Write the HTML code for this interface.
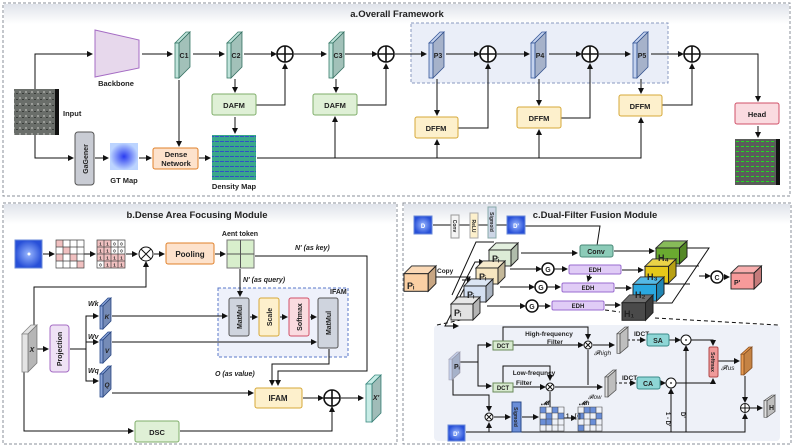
<!DOCTYPE html>
<html><head><meta charset="utf-8"><style>
html,body{margin:0;padding:0;background:#fff}
svg{display:block}
text{font-family:"Liberation Sans",sans-serif;font-weight:bold;fill:#222}
</style></head><body>
<svg width="793" height="446" viewBox="0 0 793 446" xmlns="http://www.w3.org/2000/svg">
<defs>
<linearGradient id="hdr" x1="0" y1="0" x2="0" y2="1"><stop offset="0" stop-color="#dfe3ea"/><stop offset="1" stop-color="#ffffff"/></linearGradient>
<radialGradient id="gt"><stop offset="0" stop-color="#2a3cf0"/><stop offset="1" stop-color="#bcd4ff"/></radialGradient>
<radialGradient id="dd"><stop offset="0" stop-color="#9ab8ff"/><stop offset="1" stop-color="#2850d8"/></radialGradient>
<marker id="a" markerWidth="6" markerHeight="6" refX="5" refY="3" orient="auto" markerUnits="userSpaceOnUse"><path d="M0,0 L6,3 L0,6 z" fill="#111"/></marker>
<pattern id="sat" width="6" height="6" patternUnits="userSpaceOnUse"><rect width="6" height="6" fill="#6a6e6a"/><rect x="1" y="1" width="2" height="2" fill="#9a9c98"/><rect x="4" y="3" width="2" height="1" fill="#3a3d3a"/></pattern>
<pattern id="den" width="5" height="5" patternUnits="userSpaceOnUse"><rect width="5" height="5" fill="#3aa88a"/><rect x="0" y="1" width="4" height="1" fill="#3050c8"/></pattern>
<pattern id="det" width="5" height="5" patternUnits="userSpaceOnUse"><rect width="5" height="5" fill="#5a5d5a"/><rect x="1" y="1" width="3" height="1" fill="#22dd22"/></pattern>
<g id="slabA" stroke-width="0.8"><polygon points="0,11 11,0 15,0 4,11"/><rect x="0" y="11" width="4" height="35"/><polygon points="4,11 15,0 15,35 4,46"/><polygon points="4,11 15,0 15,35 4,46" fill="#000" fill-opacity="0.15" stroke="none"/></g>
<g id="slabK" stroke-width="0.8"><polygon points="0,8 8,0 11,0 3,8"/><rect x="0" y="8" width="3" height="23"/><polygon points="3,8 11,0 11,23 3,31"/><polygon points="3,8 11,0 11,23 3,31" fill="#000" fill-opacity="0.15" stroke="none"/></g>
<g id="slabX" stroke-width="0.8"><polygon points="0,9 9,0 15,0 6,9"/><rect x="0" y="9" width="6" height="38"/><polygon points="6,9 15,0 15,38 6,47"/><polygon points="6,9 15,0 15,38 6,47" fill="#000" fill-opacity="0.2" stroke="none"/></g>
<g id="cube" stroke="#222" stroke-width="0.9"><polygon points="0,7 7,0 29,0 22,7"/><polygon points="0,7 7,0 29,0 22,7" fill="#fff" fill-opacity="0.2" stroke="none"/><rect x="0" y="7" width="22" height="16"/><polygon points="22,7 29,0 29,16 22,23"/><polygon points="22,7 29,0 29,16 22,23" fill="#000" fill-opacity="0.2" stroke="none"/></g>
<g id="op" stroke="#111" stroke-width="1.6" fill="#fff"><circle r="8"/><path d="M-8,0H8M0,-8V8"/></g>
</defs>
<rect x="3" y="3" width="787" height="193" fill="#fff" stroke="#8a8f99" stroke-dasharray="3,2"/>
<rect x="4" y="4" width="785" height="20" fill="url(#hdr)"/>
<rect x="3" y="203" width="394" height="241" fill="#fff" stroke="#8a8f99" stroke-dasharray="3,2"/>
<rect x="4" y="204" width="392" height="20" fill="url(#hdr)"/>
<rect x="403" y="203" width="388" height="241" fill="#fff" stroke="#8a8f99" stroke-dasharray="3,2"/>
<rect x="404" y="204" width="386" height="20" fill="url(#hdr)"/>
<rect x="434" y="325" width="346" height="116" rx="4" fill="#eef1f8"/>
<rect x="411" y="23" width="257" height="60" fill="#eaeef8" stroke="#8a9ac0" stroke-dasharray="3,2"/>
<rect x="218" y="288" width="130" height="69" fill="#eef1fb" stroke="#5a78c8" stroke-dasharray="3,2"/>
<text x="397" y="17" font-size="9.5" text-anchor="middle">a.Overall Framework</text>
<text x="197" y="218" font-size="9.5" text-anchor="middle">b.Dense Area Focusing Module</text>
<text x="595" y="218" font-size="9.5" text-anchor="middle">c.Dual-Filter Fusion Module</text>

<g fill="none" stroke="#111" stroke-width="1">
<path d="M35,89 V54 H92" marker-end="url(#a)"/>
<path d="M142,54 H172" marker-end="url(#a)"/>
<path d="M193,54 H224" marker-end="url(#a)"/>
<path d="M244,54 H276" marker-end="url(#a)"/>
<path d="M294,54 H326" marker-end="url(#a)"/>
<path d="M345,54 H377" marker-end="url(#a)"/>
<path d="M395,54 H426" marker-end="url(#a)"/>
<path d="M446,54 H479" marker-end="url(#a)"/>
<path d="M497,54 H529" marker-end="url(#a)"/>
<path d="M549,54 H581" marker-end="url(#a)"/>
<path d="M599,54 H630" marker-end="url(#a)"/>
<path d="M651,54 H683" marker-end="url(#a)"/>
<path d="M701,54 H758 V101" marker-end="url(#a)"/>
<path d="M758,126 V137" marker-end="url(#a)"/>
<path d="M235,79 V92" marker-end="url(#a)"/>
<path d="M336,79 V92" marker-end="url(#a)"/>
<path d="M235,117 V133" marker-end="url(#a)"/>
<path d="M256,105 H285 V64" marker-end="url(#a)"/>
<path d="M357,105 H386 V64" marker-end="url(#a)"/>
<path d="M458,128 H488 V64" marker-end="url(#a)"/>
<path d="M561,118 H590 V64" marker-end="url(#a)"/>
<path d="M662,105 H692 V64" marker-end="url(#a)"/>
<path d="M437,79 V115" marker-end="url(#a)"/>
<path d="M539,79 V105" marker-end="url(#a)"/>
<path d="M641,79 V93" marker-end="url(#a)"/>
<path d="M179,80 V146" marker-end="url(#a)"/>
<path d="M35,135 V158 H73" marker-end="url(#a)"/>
<path d="M95,158 H108" marker-end="url(#a)"/>
<path d="M139,158 H151" marker-end="url(#a)"/>
<path d="M199,158 H210" marker-end="url(#a)"/>
<path d="M257,158 H641 V118" marker-end="url(#a)"/>
<path d="M335,158 V117" marker-end="url(#a)"/>
<path d="M437,158 V140" marker-end="url(#a)"/>
<path d="M539,158 V130" marker-end="url(#a)"/>
<path d="M43,254 H54" marker-end="url(#a)"/>
<path d="M84,254 H95" marker-end="url(#a)"/>
<path d="M126,254 H137" marker-end="url(#a)"/>
<path d="M154,254 H164" marker-end="url(#a)"/>
<path d="M215,254 H225" marker-end="url(#a)"/>
<path d="M255,256 H367 V371 H278 V385" marker-end="url(#a)"/>
<path d="M240,269 V296" marker-end="url(#a)"/>
<path d="M34,325 V287 H146 V262" marker-end="url(#a)"/>
<path d="M37,349 H48" marker-end="url(#a)"/>
<path d="M70,349 H86 V316 H98" marker-end="url(#a)"/>
<path d="M86,342 H98" marker-end="url(#a)"/>
<path d="M86,349 V381 H98" marker-end="url(#a)"/>
<path d="M112,316 H227" marker-end="url(#a)"/>
<path d="M112,342 H316" marker-end="url(#a)"/>
<path d="M112,393 H253" marker-end="url(#a)"/>
<path d="M250,317 H257" marker-end="url(#a)"/>
<path d="M280,317 H287" marker-end="url(#a)"/>
<path d="M310,317 H316" marker-end="url(#a)"/>
<path d="M329,349 V364 H272 V385" marker-end="url(#a)"/>
<path d="M303,398 H323" marker-end="url(#a)"/>
<path d="M341,398 H363" marker-end="url(#a)"/>
<path d="M24,372 V431 H133" marker-end="url(#a)"/>
<path d="M180,431 H332 V407" marker-end="url(#a)"/>
<path d="M433,225 H507"/>
<path d="M525,226 H600 L596,252"/>
<path d="M590,274 L588,281" marker-end="url(#a)"/>
<path d="M434,277 H470 L445,326 H458" marker-end="url(#a)"/>
<path d="M455,300 L475,262 H484" marker-end="url(#a)"/>
<path d="M462,280 H472" marker-end="url(#a)"/>
<path d="M452,295 L476,242 H494"/>
<path d="M521,253 H577" marker-end="url(#a)"/>
<path d="M510,269 H541" marker-end="url(#a)"/>
<path d="M500,287 H534" marker-end="url(#a)"/>
<path d="M487,306 H525" marker-end="url(#a)"/>
<path d="M554,269 H567" marker-end="url(#a)"/>
<path d="M547,287 H560" marker-end="url(#a)"/>
<path d="M538,306 H550" marker-end="url(#a)"/>
<path d="M614,251 H654" marker-end="url(#a)"/>
<path d="M622,270 H643" marker-end="url(#a)"/>
<path d="M615,288 H631" marker-end="url(#a)"/>
<path d="M605,305 H620" marker-end="url(#a)"/>
<path d="M687,248 H709 L672,303 H652 M675,266 H699 M663,284 H690"/>
<path d="M699,276 H710" marker-end="url(#a)"/>
<path d="M724,277 H729" marker-end="url(#a)"/>
<path d="M437,325 L470,318 M605,310 L620,312 M655,318 L778,325" stroke-dasharray="4,3"/>
<path d="M459,362 H478 V345 H491" marker-end="url(#a)"/>
<path d="M478,362 V386 H491" marker-end="url(#a)"/>
<path d="M513,345 H583" marker-end="url(#a)"/>
<path d="M503,341 V327 H588 V339" marker-end="url(#a)"/>
<path d="M513,387 H545" marker-end="url(#a)"/>
<path d="M503,383 V366 H550 V380" marker-end="url(#a)"/>
<path d="M593,345 H614" marker-end="url(#a)"/>
<path d="M555,387 H602" marker-end="url(#a)"/>
<path d="M588,350 V385 M550,407 V392"/>
<path d="M453,378 V395 H489 V411" marker-end="url(#a)"/>
<path d="M494,417 H510" marker-end="url(#a)"/>
<path d="M522,417 H538" marker-end="url(#a)"/>
<path d="M564,418 H576" marker-end="url(#a)"/>
<path d="M627,340 H645" stroke-dasharray="3,2" marker-end="url(#a)"/>
<path d="M614,383 H635" stroke-dasharray="3,2" marker-end="url(#a)"/>
<path d="M669,340 H680" marker-end="url(#a)"/>
<path d="M660,383 H665" marker-end="url(#a)"/>
<path d="M691,340 H713 V345" marker-end="url(#a)"/>
<path d="M676,383 H713 V379" marker-end="url(#a)"/>
<path d="M718,361 H739" marker-end="url(#a)"/>
<path d="M745,376 V402" marker-end="url(#a)"/>
<path d="M750,408 H762" marker-end="url(#a)"/>
<path d="M466,432 H745 V414" marker-end="url(#a)"/>
<path d="M489,432 V423" marker-end="url(#a)"/>
<path d="M671,432 V389" marker-end="url(#a)"/>
<path d="M686,432 V346" marker-end="url(#a)"/>
</g>

<!-- panel a shapes -->
<rect x="14" y="89" width="45" height="46" fill="url(#sat)"/>
<rect x="55" y="89" width="4" height="46" fill="#111"/>
<text x="63" y="116" font-size="7.5">Input</text>
<polygon points="95,30 139,40 139,68 95,77" fill="#e7d8ec" stroke="#a56cc4"/>
<text x="116" y="86" font-size="7.5" text-anchor="middle">Backbone</text>
<rect x="75" y="132" width="19" height="53" rx="3" fill="#c9ccd4" stroke="#555"/>
<text transform="translate(88,159) rotate(-90)" font-size="7" text-anchor="middle">GaGener</text>
<rect x="110" y="143" width="28" height="27" fill="url(#gt)"/>
<text x="124" y="183" font-size="7.5" text-anchor="middle">GT Map</text>
<rect x="153" y="148" width="45" height="21" rx="2" fill="#fde2cc" stroke="#e0802a"/>
<text x="176" y="157" font-size="7.5" text-anchor="middle">Dense</text>
<text x="176" y="166" font-size="7.5" text-anchor="middle">Network</text>
<rect x="212" y="135" width="44" height="45" fill="url(#den)"/>
<text x="234" y="189" font-size="7.5" text-anchor="middle">Density Map</text>
<rect x="212" y="94" width="44" height="21" rx="2" fill="#dff0d6" stroke="#7fae6a"/>
<text x="234" y="108" font-size="7.5" text-anchor="middle">DAFM</text>
<rect x="313" y="94" width="44" height="21" rx="2" fill="#dff0d6" stroke="#7fae6a"/>
<text x="335" y="108" font-size="7.5" text-anchor="middle">DAFM</text>
<rect x="415" y="117" width="43" height="21" rx="2" fill="#fdf0cc" stroke="#d6a838"/>
<text x="436" y="131" font-size="7.5" text-anchor="middle">DFFM</text>
<rect x="517" y="107" width="44" height="21" rx="2" fill="#fdf0cc" stroke="#d6a838"/>
<text x="539" y="121" font-size="7.5" text-anchor="middle">DFFM</text>
<rect x="619" y="95" width="43" height="21" rx="2" fill="#fdf0cc" stroke="#d6a838"/>
<text x="640" y="109" font-size="7.5" text-anchor="middle">DFFM</text>
<rect x="735" y="103" width="44" height="21" rx="2" fill="#fadbe0" stroke="#d05068"/>
<text x="757" y="117" font-size="7.5" text-anchor="middle">Head</text>
<rect x="735" y="139" width="45" height="46" fill="url(#det)"/>
<rect x="776" y="139" width="4" height="46" fill="#111"/>

<use href="#slabA" x="175" y="32" fill="#bfe3da" stroke="#3a7a6a"/>
<use href="#slabA" x="227" y="32" fill="#bfe3da" stroke="#3a7a6a"/>
<use href="#slabA" x="329" y="32" fill="#bfe3da" stroke="#3a7a6a"/>
<use href="#slabA" x="429" y="32" fill="#c4d2ee" stroke="#3a5a9a"/>
<use href="#slabA" x="531" y="32" fill="#c4d2ee" stroke="#3a5a9a"/>
<use href="#slabA" x="633" y="32" fill="#c4d2ee" stroke="#3a5a9a"/>
<text x="184" y="58" font-size="7" text-anchor="middle">C1</text>
<text x="236" y="58" font-size="7" text-anchor="middle">C2</text>
<text x="338" y="58" font-size="7" text-anchor="middle">C3</text>
<text x="438" y="58" font-size="7" text-anchor="middle">P3</text>
<text x="540" y="58" font-size="7" text-anchor="middle">P4</text>
<text x="642" y="58" font-size="7" text-anchor="middle">P5</text>
<use href="#op" x="285" y="54"/><use href="#op" x="386" y="54"/><use href="#op" x="488" y="54"/><use href="#op" x="590" y="54"/><use href="#op" x="692" y="54"/>

<!-- panel b -->
<rect x="15" y="240" width="27" height="28" fill="url(#dd)" stroke="#6a8ad8"/>
<circle cx="29" cy="254" r="1.5" fill="#fff"/>
<g fill="#f0c0c0">
<rect x="56" y="240" width="7" height="7"/><rect x="63" y="247" width="7" height="7"/><rect x="56" y="254" width="7" height="7"/><rect x="70" y="254" width="7" height="7"/><rect x="77" y="261" width="7" height="7"/>
<rect x="97" y="240" width="14" height="21"/><rect x="111" y="254" width="14" height="14"/><rect x="104" y="261" width="7" height="7"/>
</g>
<path d="M56,240h28v28h-28z M63,240v28 M70,240v28 M77,240v28 M56,247h28 M56,254h28 M56,261h28" fill="none" stroke="#444" stroke-width="0.7"/>
<path d="M97,240h28v28h-28z M104,240v28 M111,240v28 M118,240v28 M97,247h28 M97,254h28 M97,261h28" fill="none" stroke="#444" stroke-width="0.7"/>
<g font-size="4.5" text-anchor="middle" style="font-weight:normal">
<text x="100.5" y="245.5">1</text><text x="107.5" y="245.5">1</text><text x="114.5" y="245.5">0</text><text x="121.5" y="245.5">0</text>
<text x="100.5" y="252.5">1</text><text x="107.5" y="252.5">1</text><text x="114.5" y="252.5">0</text><text x="121.5" y="252.5">0</text>
<text x="100.5" y="259.5">1</text><text x="107.5" y="259.5">1</text><text x="114.5" y="259.5">1</text><text x="121.5" y="259.5">1</text>
<text x="100.5" y="266.5">0</text><text x="107.5" y="266.5">1</text><text x="114.5" y="266.5">1</text><text x="121.5" y="266.5">1</text>
</g>
<circle cx="146" cy="254" r="7" fill="#fff" stroke="#111"/>
<path d="M141,249L151,259M151,249L141,259" stroke="#111"/>
<rect x="166" y="243" width="48" height="21" rx="2" fill="#fde2cc" stroke="#e0802a"/>
<text x="190" y="257" font-size="8" text-anchor="middle">Pooling</text>
<rect x="227" y="240" width="27" height="28" fill="#d8efcc" stroke="#777"/>
<path d="M240.5,240 V268 M227,254 H254" stroke="#555"/>
<text x="240" y="236" font-size="7" text-anchor="middle">Aent token</text>
<text x="295" y="250" font-size="7" font-style="italic">N' (as  key)</text>
<text x="243" y="282" font-size="7" font-style="italic">N' (as  query)</text>
<text x="330" y="294" font-size="7">IFAM</text>
<text x="215" y="376" font-size="7" font-style="italic">O (as  value)</text>
<rect x="229" y="298" width="20" height="38" rx="2" fill="#cfd4de" stroke="#555"/>
<text transform="translate(242,317) rotate(-90)" font-size="7" text-anchor="middle">MatMul</text>
<rect x="259" y="298" width="20" height="38" rx="2" fill="#fdf0cc" stroke="#d6a838"/>
<text transform="translate(272,317) rotate(-90)" font-size="7" text-anchor="middle">Scale</text>
<rect x="289" y="298" width="20" height="38" rx="2" fill="#fadbe0" stroke="#d05068"/>
<text transform="translate(302,317) rotate(-90)" font-size="7" text-anchor="middle">Softmax</text>
<rect x="318" y="298" width="20" height="50" rx="2" fill="#cfd4de" stroke="#555"/>
<text transform="translate(331,323) rotate(-90)" font-size="7" text-anchor="middle">MatMul</text>
<rect x="50" y="325" width="19" height="47" rx="3" fill="#efe2f5" stroke="#a56cc4"/>
<text transform="translate(62,349) rotate(-90)" font-size="7" text-anchor="middle">Projection</text>
<rect x="255" y="388" width="47" height="20" rx="2" fill="#fdf0cc" stroke="#d6a838"/>
<text x="278" y="401" font-size="8" text-anchor="middle">IFAM</text>
<rect x="135" y="421" width="44" height="21" rx="2" fill="#dff0d6" stroke="#7fae6a"/>
<text x="157" y="435" font-size="7.5" text-anchor="middle">DSC</text>
<text x="88" y="306" font-size="7" font-style="italic">Wk</text>
<text x="88" y="339" font-size="7" font-style="italic">Wv</text>
<text x="88" y="373" font-size="7" font-style="italic">Wq</text>
<use href="#slabX" x="22" y="325" fill="#e4e4e4" stroke="#888"/>
<use href="#slabK" x="100" y="298" fill="#8aa4d8" stroke="#2a4a8a"/>
<use href="#slabK" x="100" y="332" fill="#8aa4d8" stroke="#2a4a8a"/>
<use href="#slabK" x="100" y="366" fill="#8aa4d8" stroke="#2a4a8a"/>
<use href="#slabX" x="366" y="375" fill="#c8ece6" stroke="#3a8a80"/>
<text x="32" y="352" font-size="7" font-style="italic" text-anchor="middle">X</text>
<text x="107" y="319" font-size="6.5" font-style="italic" text-anchor="middle">K</text>
<text x="107" y="353" font-size="6.5" font-style="italic" text-anchor="middle">V</text>
<text x="107" y="387" font-size="6.5" font-style="italic" text-anchor="middle">Q</text>
<text x="376" y="400" font-size="7" font-style="italic" text-anchor="middle">X'</text>
<use href="#op" x="332" y="398"/>

<!-- panel c top -->
<rect x="414" y="216" width="18" height="18" fill="url(#dd)" stroke="#6a8ad8"/>
<text x="423" y="228" font-size="6" text-anchor="middle" style="fill:#fff">D</text>
<rect x="451" y="215" width="8" height="23" fill="#f4f4f4" stroke="#999"/>
<text transform="translate(453,226) rotate(90)" font-size="5" text-anchor="middle">Conv</text>
<rect x="470" y="213" width="8" height="25" fill="#fdf0cc" stroke="#aaa"/>
<text transform="translate(472,226) rotate(90)" font-size="5" text-anchor="middle">ReLU</text>
<rect x="488" y="207" width="8" height="31" fill="#cdd6e6" stroke="#8aa"/>
<text transform="translate(490,222) rotate(90)" font-size="5" text-anchor="middle">Sigmoid</text>
<rect x="507" y="216" width="18" height="18" fill="url(#dd)" stroke="#6a8ad8"/>
<text x="516" y="228" font-size="6" text-anchor="middle" style="fill:#fff">D'</text>
<text x="437" y="273" font-size="6.5">Copy</text>
<rect x="580" y="245" width="33" height="12" rx="2" fill="#8ccbb8" stroke="#4a8a78"/>
<text x="596" y="254" font-size="7" text-anchor="middle">Conv</text>
<rect x="569" y="265" width="52" height="9" rx="1.5" fill="#e0ccf6" stroke="#9a6cd0"/>
<text x="595" y="272" font-size="6" text-anchor="middle">EDH</text>
<rect x="562" y="283" width="52" height="9" rx="1.5" fill="#e0ccf6" stroke="#9a6cd0"/>
<text x="588" y="290" font-size="6" text-anchor="middle">EDH</text>
<rect x="552" y="301" width="52" height="9" rx="1.5" fill="#e0ccf6" stroke="#9a6cd0"/>
<text x="578" y="308" font-size="6" text-anchor="middle">EDH</text>
<use href="#cube" transform="translate(404,266) scale(1.1,1.1)" fill="#fbd0a4"/>
<use href="#cube" x="489" y="243" fill="#dcebd6"/>
<use href="#cube" x="476" y="261" fill="#f6e6c0"/>
<use href="#cube" x="464" y="279" fill="#d4e0f2"/>
<use href="#cube" x="451" y="297" fill="#e2e2e2"/>
<use href="#cube" transform="translate(656,241) scale(1.07,1)" fill="#6aaa30"/>
<use href="#cube" transform="translate(645,259) scale(1.07,1.05)" fill="#e6c81a"/>
<use href="#cube" transform="translate(633,277) scale(1.07,1.05)" fill="#2aa8e0"/>
<use href="#cube" transform="translate(622,295) scale(1.07,1.1)" fill="#4a4a4a"/>
<use href="#cube" transform="translate(731,266) scale(1.05,1)" fill="#f79a9a"/>
<g font-size="9" style="font-weight:normal">
<text x="407" y="289">Pᵢ</text><text x="492" y="262">Pᵢ</text><text x="479" y="280">Pᵢ</text><text x="467" y="298">Pᵢ</text><text x="454" y="316">Pᵢ</text>
<text x="658" y="261">H₄</text><text x="647" y="280">H₃</text><text x="635" y="298">H₂</text><text x="624" y="317">H₁</text>
<text x="734" y="285" font-size="7">P'</text>
</g>
<g stroke="#111" stroke-width="1.5" fill="#fff">
<circle cx="548" cy="269" r="6"/><circle cx="541" cy="287" r="6"/><circle cx="532" cy="306" r="6"/><circle cx="717" cy="277" r="6"/>
</g>
<g font-size="7" text-anchor="middle"><text x="548" y="272">G</text><text x="541" y="290">G</text><text x="532" y="309">G</text><text x="717" y="280">C</text></g>

<!-- lower c -->
<use href="#slabK" transform="translate(449,352) scale(1,0.9)" fill="#c4d2ee" stroke="#aab"/>
<text x="454" y="369" font-size="7">Pᵢ</text>
<use href="#slabK" transform="translate(617,327) scale(1,0.85)" fill="#e0e0e0" stroke="#555"/>
<use href="#slabK" transform="translate(605,370) scale(1,0.87)" fill="#e0e0e0" stroke="#555"/>
<use href="#slabK" transform="translate(741,347) scale(1,0.9)" fill="#e89a50" stroke="#8a5020"/>
<use href="#slabK" transform="translate(764,395) scale(1,0.72)" fill="#e0e0e0" stroke="#555"/>
<text x="769" y="410" font-size="7">H</text>
<rect x="493" y="341" width="20" height="9" fill="#d8ead0" stroke="#6a8a5a"/>
<text x="503" y="348" font-size="6" text-anchor="middle">DCT</text>
<rect x="493" y="383" width="20" height="9" fill="#d8ead0" stroke="#6a8a5a"/>
<text x="503" y="390" font-size="6" text-anchor="middle">DCT</text>
<text x="549" y="336" font-size="6.5" text-anchor="middle">High-frequency</text>
<text x="555" y="344" font-size="6.5" text-anchor="middle">Filter</text>
<text x="534" y="375" font-size="6.5" text-anchor="middle">Low-frequncy</text>
<text x="524" y="385" font-size="6.5" text-anchor="middle">Filter</text>
<text x="634" y="336" font-size="6.5">IDCT</text>
<text x="622" y="380" font-size="6.5">IDCT</text>
<rect x="647" y="334" width="22" height="12" rx="2" fill="#8ed6d6" stroke="#3a8a8a"/>
<text x="658" y="343" font-size="7" text-anchor="middle">SA</text>
<rect x="637" y="377" width="23" height="12" rx="2" fill="#8ed6d6" stroke="#3a8a8a"/>
<text x="648" y="386" font-size="7" text-anchor="middle">CA</text>
<rect x="709" y="347" width="9" height="30" rx="1.5" fill="#f09a9a" stroke="#b04848"/>
<text transform="translate(711,362) rotate(90)" font-size="5" text-anchor="middle">Softmax</text>
<text x="594" y="355" font-size="6.5" font-style="italic" style="font-weight:normal">𝓕high</text>
<text x="588" y="399" font-size="6" font-style="italic" style="font-weight:normal">𝓕low</text>
<text x="721" y="370" font-size="6.5" font-style="italic" style="font-weight:normal">𝓕fus</text>
<rect x="512" y="402" width="9" height="30" fill="#6a8ed8" stroke="#2a4a8a"/>
<text transform="translate(514,417) rotate(90)" font-size="5" text-anchor="middle">Sigmoid</text>
<g fill="#6a8ed8">
<rect x="540" y="407" width="6" height="6"/><rect x="552" y="407" width="6" height="6"/><rect x="546" y="413" width="6" height="6"/><rect x="558" y="413" width="6" height="6"/><rect x="540" y="419" width="12" height="6"/>
<rect x="584" y="407" width="12" height="6"/><rect x="578" y="413" width="6" height="6"/><rect x="596" y="413" width="6" height="6"/><rect x="590" y="419" width="6" height="6"/><rect x="578" y="425" width="6" height="6"/>
</g>
<path d="M540,407h24v24h-24z M546,407v24 M552,407v24 M558,407v24 M540,413h24 M540,419h24 M540,425h24" fill="none" stroke="#444" stroke-width="0.6"/>
<path d="M578,407h24v24h-24z M584,407v24 M590,407v24 M596,407v24 M578,413h24 M578,419h24 M578,425h24" fill="none" stroke="#444" stroke-width="0.6"/>
<text x="541" y="405" font-size="6" font-style="italic">𝓜l</text>
<text x="566" y="418" font-size="6">1 - [·]</text>
<text x="579" y="405" font-size="6" font-style="italic">𝓜h</text>
<text transform="translate(666,412) rotate(90)" font-size="6">1 - D'</text>
<text transform="translate(681,412) rotate(90)" font-size="6">D'</text>
<rect x="448" y="425" width="17" height="16" fill="url(#dd)" stroke="#6a8ad8"/>
<text x="456" y="436" font-size="6" text-anchor="middle" style="fill:#fff">D'</text>
<g stroke="#111" fill="#fff">
<circle cx="588" cy="345" r="4"/><circle cx="550" cy="387" r="4"/><circle cx="489" cy="417" r="4"/>
<circle cx="686" cy="340" r="5"/><circle cx="671" cy="383" r="5"/><circle cx="745" cy="408" r="4.5"/>
</g>
<path d="M585,342l6,6m0,-6l-6,6 M547,384l6,6m0,-6l-6,6 M486,414l6,6m0,-6l-6,6 M740.5,408h9 M745,403.5v9" stroke="#111"/>
<circle cx="686" cy="340" r="0.9" fill="#111"/><circle cx="671" cy="383" r="0.9" fill="#111"/>
</svg>
</body></html>
